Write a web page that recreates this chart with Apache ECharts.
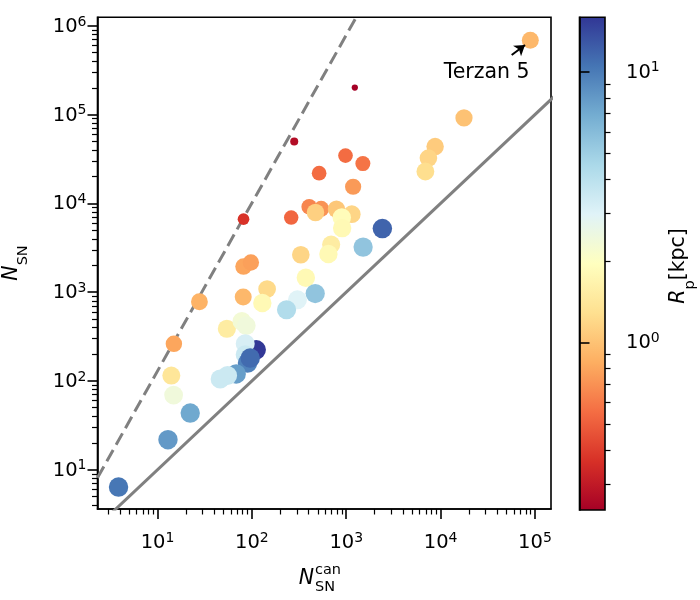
<!DOCTYPE html>
<html>
<head>
<meta charset="utf-8">
<script src="https://cdn.jsdelivr.net/npm/echarts@6/dist/echarts.min.js"></script>
<style>
html, body { margin: 0; padding: 0; background: #fff; }
#chart { width: 700px; height: 600px; }
</style>
</head>
<body>
<div id="chart"></div>
<script>
// clusters: candidate count, N_SN, projected radius R_p [kpc]
var nCan = [89300, 1233, 281, 17700, 8750, 7430, 6900, 982, 1500, 516,
            1183, 81.5, 261, 405, 542, 472, 787, 1146, 897, 905,
            2415, 1510, 692, 647, 330, 81.5, 97.6, 373, 469, 304,
            233, 145, 129, 80.9, 27.8, 14.9, 14.0, 14.8, 22.2, 54.3,
            78.3, 87.1, 111, 85, 85, 89.8, 96, 68.2, 55.2, 46.1,
            12.9, 3.86];
var nSN = [6.9e5, 2.02e5, 4.98e4, 9.2e4, 4.37e4, 3.24e4, 2.29e4, 3.46e4, 2.81e4, 2.19e4,
           1.54e4, 6650, 6930, 9160, 8690, 7900, 8640, 7570, 6930, 5270,
           5210, 3220, 3440, 2690, 2640, 1945, 2160, 1452, 966, 820,
           634, 1084, 754, 881, 780, 262, 115, 69.4, 43.5, 387,
           468, 419, 224, 262, 197, 159, 181, 120, 115, 105,
           21.8, 6.38];
var rp = [0.92, 0.24, 0.27, 1.0, 1.08, 1.17, 1.27, 0.55, 0.58, 0.55,
          0.74, 0.37, 0.53, 0.65, 0.71, 1.12, 1.04, 1.17, 1.87, 1.79,
          11.7, 5.5, 1.51, 1.79, 1.17, 0.80, 0.77, 1.79, 5.5, 2.96,
          4.3, 1.22, 1.79, 0.92, 0.88, 0.80, 1.39, 2.4, 7.1, 1.51,
          2.3, 2.4, 15.7, 3.2, 3.5, 9.5, 11.2, 7.7, 3.5, 3.5,
          8.0, 10.3];

var oneToOne = [[1, 1], [1e6, 1e6]];
var dashedLine = [[2.31, 8.1], [1270, 1.24e6]];

var terzanLabel = [30800, 3.0e5];
var arrowFrom = [56700, 4.7e5];
var arrowTo = [78500, 6.1e5];

var xRange = [2.31, 1.48e5];
var yRange = [3.61, 1.25e6];
var rpRange = [0.24, 15.9];

var xMajor = [10, 100, 1000, 1e4, 1e5];
var yMajor = [10, 100, 1000, 1e4, 1e5, 1e6];
var cMajor = [1, 10];
var decades = [0.1, 1, 10, 100, 1000, 1e4, 1e5, 1e6];

var rdylbu = ['#a50026', '#d73027', '#f46d43', '#fdae61', '#fee090', '#ffffbf',
              '#e0f3f8', '#abd9e9', '#74add1', '#4575b4', '#313695'];

function minorTicks(range) {
    var out = [];
    decades.forEach(function (d) {
        for (var k = 2; k <= 9; k++) {
            var v = k * d;
            if (v >= range[0] && v <= range[1]) out.push(v);
        }
    });
    return out;
}

var FONT = 'DejaVu Sans';
var powRich = {
    b: { fontSize: 19.5, fontFamily: FONT, color: '#000', lineHeight: 22, verticalAlign: 'bottom' },
    e: { fontSize: 14, fontFamily: FONT, color: '#000', lineHeight: 13, verticalAlign: 'top' }
};
function powLabel(v) {
    var e = Math.round(Math.log10(v));
    return '{b|10}{e|' + e + '}';
}

var points = nCan.map(function (x, i) {
    return [x, nSN[i], rp[i], Math.log10(rp[i])];
});

var stops = rdylbu.map(function (c, i) {
    return { offset: i / (rdylbu.length - 1), color: c };
});

function majorAxis(grid, range, ticks, position, margin) {
    return {
        type: 'log', logBase: 10, gridIndex: grid, position: position,
        min: range[0], max: range[1],
        axisLine: { show: true, lineStyle: { color: '#000', width: 1.6 } },
        axisTick: { show: true, customValues: ticks, length: 10, lineStyle: { color: '#000', width: 1.6 } },
        axisLabel: { show: true, customValues: ticks, formatter: powLabel, rich: powRich, margin: margin },
        splitLine: { show: false }
    };
}
function minorAxis(grid, range, position) {
    return {
        type: 'log', logBase: 10, gridIndex: grid, position: position,
        min: range[0], max: range[1],
        axisLine: { show: false },
        axisTick: { show: true, customValues: minorTicks(range), length: 5.5, lineStyle: { color: '#000', width: 1.2 } },
        axisLabel: { show: false },
        splitLine: { show: false }
    };
}

var chart = echarts.init(document.getElementById('chart'));
var option = {
    animation: false,
    backgroundColor: '#fff',
    grid: [
        { left: 97.5, top: 17.3, width: 453.5, height: 491.7, show: true,
          borderColor: '#000', borderWidth: 1.6, backgroundColor: '#fff' },
        { left: 579.5, top: 17.3, width: 25.5, height: 492.7, show: true,
          borderColor: '#000', borderWidth: 1.6,
          backgroundColor: new echarts.graphic.LinearGradient(0, 1, 0, 0, stops) }
    ],
    xAxis: [
        majorAxis(0, xRange, xMajor, 'bottom', 22),
        minorAxis(0, xRange, 'bottom'),
        { type: 'value', gridIndex: 1, min: 0, max: 1, show: false }
    ],
    yAxis: [
        majorAxis(0, yRange, yMajor, 'left', 11),
        minorAxis(0, yRange, 'left'),
        majorAxis(1, rpRange, cMajor, 'right', 21),
        minorAxis(1, rpRange, 'right')
    ],
    visualMap: {
        type: 'continuous', show: false, seriesIndex: 0, dimension: 3,
        min: Math.log10(rpRange[0]), max: Math.log10(rpRange[1]),
        inRange: { color: rdylbu }
    },
    series: [
        {
            type: 'scatter', xAxisIndex: 0, yAxisIndex: 0, data: points, z: 3,
            // marker radius grows with R_p and saturates
            symbolSize: function (v) {
                var L = Math.max(Math.log10(v[2] / 0.2), 0);
                return 2 * (1.5 + 8.3 * (1 - Math.exp(-L / 0.36)));
            },
            itemStyle: { opacity: 1, borderWidth: 0 },
            silent: true
        },
        {
            type: 'line', xAxisIndex: 0, yAxisIndex: 0, data: oneToOne, z: 2,
            symbol: 'none', clip: true, silent: true,
            lineStyle: { color: '#808080', width: 3 },
            markLine: {
                silent: true, symbolSize: 10, animation: false,
                label: { show: false },
                lineStyle: { color: '#000', width: 2, type: 'solid' },
                data: [[{ coord: arrowFrom, symbol: 'none' }, { coord: arrowTo, symbol: 'arrow' }]]
            },
            markPoint: {
                silent: true, symbol: 'circle', symbolSize: 1,
                itemStyle: { color: 'rgba(0,0,0,0)' },
                label: { show: true, position: 'inside', formatter: 'Terzan 5',
                         fontSize: 20.5, fontFamily: FONT, color: '#000' },
                data: [{ coord: terzanLabel }]
            }
        },
        {
            type: 'line', xAxisIndex: 0, yAxisIndex: 0, data: dashedLine, z: 2,
            symbol: 'none', clip: true, silent: true,
            lineStyle: { color: '#808080', width: 3, type: [13, 6] }
        }
    ],
    graphic: [
        {
            type: 'text', x: 16, y: 263, rotation: Math.PI / 2,
            style: {
                text: '{n|N}{s|SN}', align: 'center', verticalAlign: 'middle',
                rich: {
                    n: { fontSize: 20.5, fontStyle: 'italic', fontFamily: FONT, color: '#000', lineHeight: 20, verticalAlign: 'top' },
                    s: { fontSize: 14.5, fontFamily: FONT, color: '#000', lineHeight: 29, verticalAlign: 'bottom' }
                }
            }
        },
        {
            type: 'text', x: 683, y: 266, rotation: Math.PI / 2,
            style: {
                text: '{n|R}{s|p}{k|[kpc]}', align: 'center', verticalAlign: 'middle',
                rich: {
                    n: { fontSize: 20.5, fontStyle: 'italic', fontFamily: FONT, color: '#000', lineHeight: 20, verticalAlign: 'top' },
                    s: { fontSize: 14.5, fontFamily: FONT, color: '#000', lineHeight: 29, verticalAlign: 'bottom' },
                    k: { fontSize: 20.5, fontFamily: FONT, color: '#000', lineHeight: 20, verticalAlign: 'top' }
                }
            }
        },
        {
            type: 'group', x: 0, y: 0,
            children: [
                { type: 'text', x: 314, y: 579, style: { text: 'N', fontSize: 20.5, fontStyle: 'italic', fontFamily: FONT, fill: '#000', align: 'right', verticalAlign: 'middle' } },
                { type: 'text', x: 315, y: 570, style: { text: 'can', fontSize: 14.5, fontFamily: FONT, fill: '#000', align: 'left', verticalAlign: 'middle' } },
                { type: 'text', x: 315, y: 587, style: { text: 'SN', fontSize: 14.5, fontFamily: FONT, fill: '#000', align: 'left', verticalAlign: 'middle' } }
            ]
        }
    ]
};
chart.setOption(option);
</script>
</body>
</html>
